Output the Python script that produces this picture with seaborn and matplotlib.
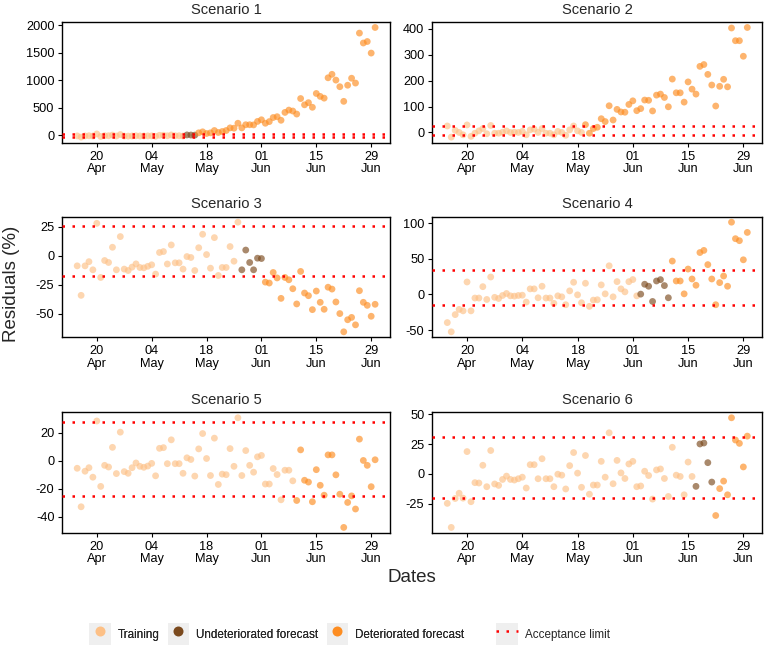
import numpy as np
import pandas as pd
import matplotlib
matplotlib.use('Agg')
import matplotlib.pyplot as plt
import matplotlib.dates as mdates
from matplotlib.lines import Line2D
from matplotlib.patches import Rectangle
from matplotlib.legend_handler import HandlerTuple
import seaborn as sns

sns.set_style('ticks')
plt.rcParams['font.family'] = ['Liberation Sans', 'DejaVu Sans']
plt.rcParams['axes.unicode_minus'] = False

# --- data ---
dates = pd.date_range('2020-04-15', '2020-06-30', freq='D')
scenarios = ['Scenario 1', 'Scenario 2', 'Scenario 3', 'Scenario 4', 'Scenario 5', 'Scenario 6']

res_s1 = [-8, -30, -8, -5, -10, 28, -18, -4, -5, 7, -10, 17, -11, -12, -9, -6, -9, -9, -8, -7,
          -15, 3, 4, -6, 9, -5, -5, -10,
          10, 8, 6,
          48, 66, 36, 48, 90, 54, 72, 90, 138, 132, 222, 138, 195, 195, 192, 255, 285, 222, 252, 326,
          341, 276, 419, 461, 444, 389, 671, 557, 596, 512, 763, 710, 678, 1048, 1111, 1006, 886, 620,
          913, 1040, 952, 1860, 1680, 1707, 1497, 1962]
res_s2 = [25, -18, 8, 0, -9, 29, -15, -3, 6, 15, -5, 27, -3, -3, 1, 6, 0, 1, 0, 4,
          -9, 10, 13, 0, 15, -3, -3, -9, 4, 0, -11, 10, 25, 6, 0,
          30, -3, 15, 20, 53, 42, 103, 48, 89, 79, 78, 108, 122, 84, 92, 125, 124, 83, 144, 148,
          135, 99, 206, 153, 153, 117, 195, 167, 148, 255, 262, 224, 183, 102, 178, 205, 176, 403,
          354, 354, 294, 405]
res_s3 = [-8.6, -34, -8.6, -5, -12, 28, -18.6, -4, -5.7, 7.4, -12, 16.6, -11.4, -12.6, -9.7, -6.9,
          -10, -10.3, -9, -7.7, -15.7, 2.9, 3.7, -7, 9.4, -6, -6, -11.4, -0.6, -1.4, -12.6, 7, 18.6,
          1.1, -10.6, 15.7, -16.9, -10, -10, 8, -4.6, 29,
          -12, 5, -5.7, -12, -2, -2.3,
          -22.6, -23.4, -14.3, -19, -36.6, -18.6, -20.6, -28.3, -41.4, -13.4, -32, -34.3, -46.3,
          -30.3, -40, -46, -27, -28.6, -39.7, -49.7, -65.4, -55, -53, -59.4, -30, -40, -42.6, -52, -41.7]
res_s4 = [-39.5, -52.5, -28.3, -21, -23, 17.6, -23, -5, -5, 11, -7, 24.6, -4, -5.6, -1.4, 1.4,
          -1.9, -2.3, -1.4, -1, -10.7, 7.9, 7.9, -4.6, 11.6, -5, -5, -12.5, -1.9, -3.3, -14.4, 5.1,
          17.2, -0.5, -11.6, 15.8, -16.7, -7.9, -7.4, 13.5, 0.9, 40.4, -3.3, 18.1, 7.9, 3.7, 18, 21, -1.9,
          0.5, 14.4, 11.6, -9.8, 19, 20.9, 12.5, -4.6,
          47, 19, 19, 0.9, 35.8, 21.8, 13, 59, 62, 42, 21.8, -14.4, 16.7, 26, 11.6, 101.7, 78.5,
          75.7, 48.8, 87.3]
res_s5 = [-5.4, -33, -7.5, -5, -11.8, 28.5, -18.4, -3.3, -4.5, 9.6, -9.2, 20.5, -7.8, -9, -5, -1.6,
          -4, -4.7, -3.8, -1.9, -10.8, 8.9, 9.4, -2.1, 15, -2.1, -2.1, -9, 2.1, 0.9, -11, 8.5, 19.5,
          1.6, -10.6, 16.2, -17, -9.6, -10, 8.7, -4, 30.8, -10.6, 7.3, -3.3, -8.2, 2.8, 3.8, -16.7,
          -16.7, -5.6, -9.9, -28, -6.8, -6.8, -14.4,
          -28.5, 7.8, -14, -15.3, -29.4, -6.4, -17.6, -24.7, 4.2, 4.2, -10.1, -24, -47.8, -29.9,
          -25.2, -34.6, 15.5, 0.2, -3.3, -18.6, 0.7]
res_s6 = [-24.8, -45, -20.7, -16.3, -20.4, 18.7, -23.4, -7.4, -7.7, 7.2, -10.8, 19.6, -8.5, -9.7,
          -4.7, -1.9, -4.7, -5.2, -4.1, -2.8, -11.9, 7.7, 7.7, -4.1, 12.7, -4.1, -4.1, -10.8, -0.3,
          -1.1, -12.7, 6.9, 17.9, 0.6, -11.3, 15.4, -17.1, -9.4, -9.4, 10.5, -2.8, 34.5, -8.3, 11.3,
          0.8, -3.9, 8.3, 10.5, -10.8, -10.2, 2.2, -1.4, -21.2, 3.3, 4.1, -3.9, -19, 22.3, -1.1,
          -2.2, -17.6, 9.9, -2.2,
          -10.5, 25.1, 25.9, 9.4, -6.9,
          -35, -12.4, -6.1, -17.6, 47.1, 28.4, 25.6, 5.8, 31.7]
residuals = [res_s1, res_s2, res_s3, res_s4, res_s5, res_s6]

n_training = [28, 35, 42, 49, 56, 63]
n_undeteriorated = [3, 0, 6, 8, 0, 5]
limit_low = [-20, -10, -17, -15.3, -25.2, -19.9]
limit_high = [25, 25, 26, 34.8, 27.5, 30.9]
ytick_sets = [[0, 500, 1000, 1500, 2000], [0, 100, 200, 300, 400], [-50, -25, 0, 25],
              [-50, 0, 50, 100], [-40, -20, 0, 20], [-25, 0, 25, 50]]
xtick_dates = ['2020-04-20', '2020-05-04', '2020-05-18', '2020-06-01', '2020-06-15', '2020-06-29']

phases = ['Training', 'Undeteriorated forecast', 'Deteriorated forecast']
colors = {'Training': '#FDC086', 'Undeteriorated forecast': '#7B4A1E',
          'Deteriorated forecast': '#FD8D21'}

frames = []
for name, res, nt, nu in zip(scenarios, residuals, n_training, n_undeteriorated):
    assert len(res) == len(dates), (name, len(res))
    phase = ['Training'] * nt + ['Undeteriorated forecast'] * nu + \
            ['Deteriorated forecast'] * (len(res) - nt - nu)
    frames.append(pd.DataFrame({'scenario': name, 'date': dates, 'residual': res, 'phase': phase}))
df = pd.concat(frames, ignore_index=True)

# --- figure ---
W, H = 765, 651
fig = plt.figure(figsize=(W / 100, H / 100), dpi=100)
lefts = [62.3, 432.3]
widths = [327.7, 330.0]
tops = [22.0, 216.7, 412.3]
height = 120.6

span = dates[-1] - dates[0]
xlim = (dates[0] - 0.05 * span, dates[-1] + 0.05 * span)

for i, name in enumerate(scenarios):
    r, c = divmod(i, 2)
    ax = fig.add_axes([lefts[c] / W, 1 - (tops[r] + height) / H, widths[c] / W, height / H])
    sub = df[df['scenario'] == name]
    sns.scatterplot(data=sub, x='date', y='residual', hue='phase', hue_order=phases,
                    palette=colors, s=24, alpha=0.65, linewidth=0, legend=False, ax=ax, zorder=2)
    for lim in (limit_low[i], limit_high[i]):
        ax.axhline(lim, color='red', lw=1.8, ls=(0, (1, 3)), dash_capstyle='butt', zorder=3)

    lo = min(sub['residual'].min(), limit_low[i])
    hi = max(sub['residual'].max(), limit_high[i])
    pad = 0.05 * (hi - lo)
    ax.set_ylim(lo - pad, hi + pad)
    ax.set_xlim(*xlim)
    ax.set_yticks(ytick_sets[i])
    ax.set_xticks(pd.to_datetime(xtick_dates))
    ax.xaxis.set_major_formatter(mdates.DateFormatter('%d\n%b'))
    ax.set_xlabel('')
    ax.set_ylabel('')
    ax.set_title(name, fontsize=10.6, pad=6)
    for sp in ax.spines.values():
        sp.set_visible(True)
        sp.set_color('black')
        sp.set_linewidth(1.0)
    ax.tick_params(direction='out', length=3.2, width=0.8, labelsize=9.2, pad=2.5,
                   colors='black')
    plt.setp(ax.get_xticklabels(), linespacing=1.05)

fig.text(12 / W, 1 - 284 / H, 'Residuals (%)', rotation=90, ha='center', va='center', fontsize=13.5)
fig.text(412 / W, 1 - 578 / H, 'Dates', ha='center', va='center', fontsize=13.5)

# --- legends (points and acceptance line) ---
key_bg = '#EFEFEF'
point_handles = [(Rectangle((0, 0), 1, 1, facecolor=key_bg, edgecolor='none'),
                  Line2D([], [], ls='', marker='o', markersize=7.2,
                         markerfacecolor=colors[p], markeredgewidth=0))
                 for p in phases]
leg_kw = dict(handler_map={tuple: HandlerTuple(ndivide=1, pad=0)}, loc='center left',
              frameon=False, fontsize=8.4, handlelength=1.85, handleheight=2.4,
              handletextpad=0.6, columnspacing=0.7, borderpad=0, borderaxespad=0)
leg1 = fig.legend(point_handles, phases, bbox_to_anchor=(89 / W, 17 / H), ncol=3, **leg_kw)
line_handle = [(Rectangle((0, 0), 1, 1, facecolor=key_bg, edgecolor='none'),
                Line2D([], [], color='red', lw=1.8, ls=(0, (1, 3)), dash_capstyle='butt'))]
fig.legend(line_handle, ['Acceptance limit'], bbox_to_anchor=(496 / W, 17 / H), **leg_kw)
fig.add_artist(leg1)

fig.savefig('out.png', dpi=100)
